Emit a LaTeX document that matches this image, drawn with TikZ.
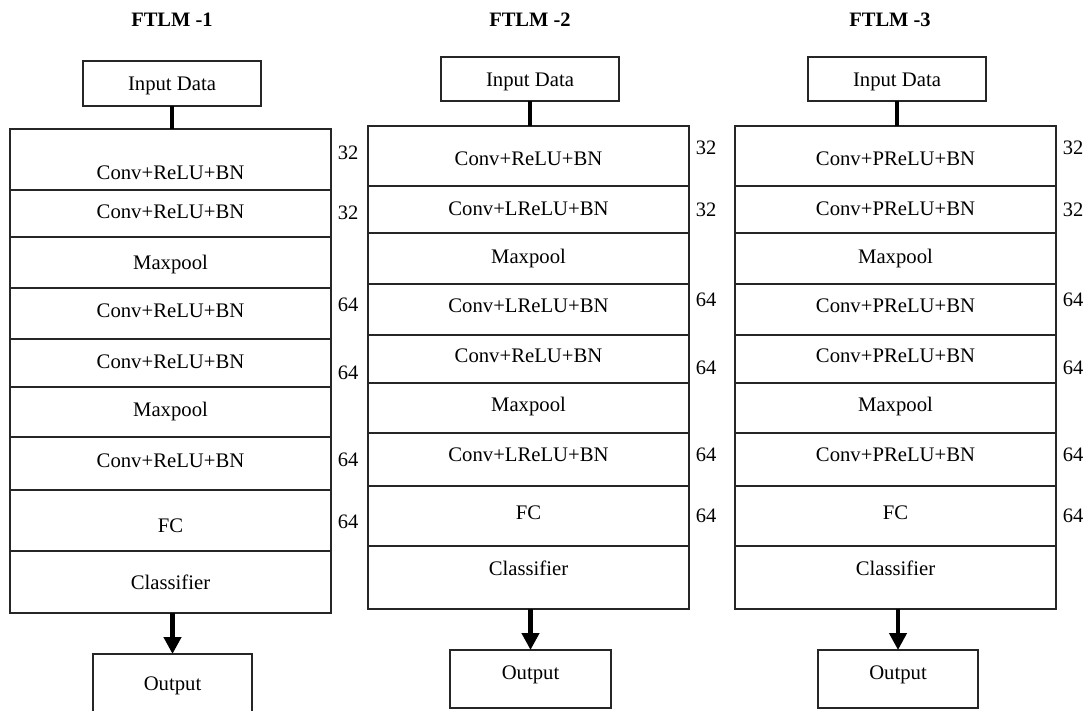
\documentclass[tikz,border=0pt]{standalone}
\usepackage{fontspec}
\setmainfont{Liberation Serif}
\usetikzlibrary{arrows.meta}
\tikzset{
  x=1pt, y=1pt,
  boxline/.style={draw=black!85, line width=1.3pt, fill=none, outer sep=0pt, inner sep=0pt},
  txt/.style={inner sep=0pt, text height=13.8pt, text depth=0pt, font=\fontsize{20.7}{24}\selectfont, text=black},
  ttl/.style={inner sep=0pt, text height=13.8pt, text depth=0pt, font=\fontsize{20.5}{24}\selectfont\bfseries, text=black},
  num/.style={inner sep=0pt, text height=13.8pt, text depth=0pt, font=\fontsize{20.5}{24}\selectfont, text=black},
  link/.style={line width=4.5pt, black},
  outarrow/.style={line width=4.5pt, black, -{Triangle[width=17pt,length=17pt]}}
}
% \layerbox{name}{x1}{x2}{ytop}{ybot}{text y}{text}
\newcommand\layerbox[7]{%
  \node[boxline, anchor=north west, minimum width={(#3-#2)*1pt}, minimum height={(#5-#4)*1pt}] (#1) at (#2,-#4) {};
  \node[txt] (#1t) at ({(#2+#3)/2},-#6) {#7};%
}
\begin{document}
\begin{tikzpicture}
\clip (0,0) rectangle (1089,-711);
\fill[white] (0,0) rectangle (1089,-711);

% ---------- titles ----------
\node[ttl] (t1) at (172,-20) {FTLM -1};
\node[ttl] (t2) at (530,-20) {FTLM -2};
\node[ttl] (t3) at (890,-20) {FTLM -3};

% ---------- column 1 ----------
\layerbox{in1}{83}{261}{61}{106}{84}{Input Data}
\layerbox{a1}{10}{331}{129}{190}{173}{Conv+ReLU+BN}
\layerbox{a2}{10}{331}{190}{237}{212}{Conv+ReLU+BN}
\layerbox{a3}{10}{331}{237}{288}{263}{Maxpool}
\layerbox{a4}{10}{331}{288}{339}{311}{Conv+ReLU+BN}
\layerbox{a5}{10}{331}{339}{387}{362}{Conv+ReLU+BN}
\layerbox{a6}{10}{331}{387}{437}{410}{Maxpool}
\layerbox{a7}{10}{331}{437}{490}{461}{Conv+ReLU+BN}
\layerbox{a8}{10}{331}{490}{551}{526}{FC}
\layerbox{a9}{10}{331}{551}{613}{583}{Classifier}
\layerbox{out1}{93}{252}{654}{713}{684}{Output}
\node[num] (n1a) at (348,-153) {32};
\node[num] (n1b) at (348,-213) {32};
\node[num] (n1c) at (348,-305) {64};
\node[num] (n1d) at (348,-373) {64};
\node[num] (n1e) at (348,-460) {64};
\node[num] (n1f) at (348,-522) {64};
\draw[link] (in1.south) -- (in1.south |- a1.north);
\draw[outarrow] (out1.north |- a9.south) -- (out1.north);

% ---------- column 2 ----------
\layerbox{in2}{441}{619}{57}{101}{80}{Input Data}
\layerbox{b1}{368}{689}{126}{186}{159}{Conv+ReLU+BN}
\layerbox{b2}{368}{689}{186}{233}{209}{Conv+LReLU+BN}
\layerbox{b3}{368}{689}{233}{284}{257}{Maxpool}
\layerbox{b4}{368}{689}{284}{335}{306}{Conv+LReLU+BN}
\layerbox{b5}{368}{689}{335}{383}{356}{Conv+ReLU+BN}
\layerbox{b6}{368}{689}{383}{433}{405}{Maxpool}
\layerbox{b7}{368}{689}{433}{486}{455}{Conv+LReLU+BN}
\layerbox{b8}{368}{689}{486}{546}{513}{FC}
\layerbox{b9}{368}{689}{546}{609}{569}{Classifier}
\layerbox{out2}{450}{611}{650}{708}{673}{Output}
\node[num] (n2a) at (706,-148) {32};
\node[num] (n2b) at (706,-210) {32};
\node[num] (n2c) at (706,-300) {64};
\node[num] (n2d) at (706,-368) {64};
\node[num] (n2e) at (706,-455) {64};
\node[num] (n2f) at (706,-516) {64};
\draw[link] (in2.south) -- (in2.south |- b1.north);
\draw[outarrow] (out2.north |- b9.south) -- (out2.north);

% ---------- column 3 ----------
\layerbox{in3}{808}{986}{57}{101}{80}{Input Data}
\layerbox{c1}{735}{1056}{126}{186}{159}{Conv+PReLU+BN}
\layerbox{c2}{735}{1056}{186}{233}{209}{Conv+PReLU+BN}
\layerbox{c3}{735}{1056}{233}{284}{257}{Maxpool}
\layerbox{c4}{735}{1056}{284}{335}{306}{Conv+PReLU+BN}
\layerbox{c5}{735}{1056}{335}{383}{356}{Conv+PReLU+BN}
\layerbox{c6}{735}{1056}{383}{433}{405}{Maxpool}
\layerbox{c7}{735}{1056}{433}{486}{455}{Conv+PReLU+BN}
\layerbox{c8}{735}{1056}{486}{546}{513}{FC}
\layerbox{c9}{735}{1056}{546}{609}{569}{Classifier}
\layerbox{out3}{818}{978}{650}{708}{673}{Output}
\node[num] (n3a) at (1073,-148) {32};
\node[num] (n3b) at (1073,-210) {32};
\node[num] (n3c) at (1073,-300) {64};
\node[num] (n3d) at (1073,-368) {64};
\node[num] (n3e) at (1073,-455) {64};
\node[num] (n3f) at (1073,-516) {64};
\draw[link] (in3.south) -- (in3.south |- c1.north);
\draw[outarrow] (out3.north |- c9.south) -- (out3.north);
\end{tikzpicture}
\end{document}
